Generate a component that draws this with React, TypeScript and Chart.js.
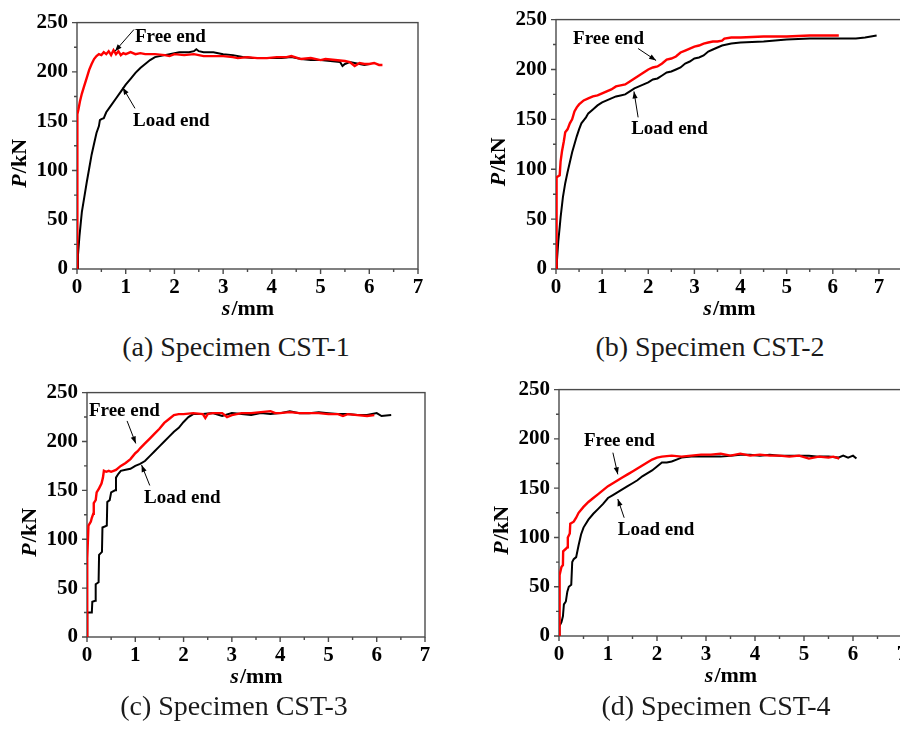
import React, { useEffect, useRef } from "react";
import { Chart, registerables } from "chart.js";
Chart.register(...registerables);

// ---------- data ----------
const yTicks = [0, 50, 100, 150, 200, 250];
const xTicks = [0, 1, 2, 3, 4, 5, 6, 7];
const seriesNames = ["Free end", "Load end"];
const captions = ["(a) Specimen CST-1", "(b) Specimen CST-2", "(c) Specimen CST-3", "(d) Specimen CST-4"];

const freeA: [number, number][] = [
  [0, 0], [0.005, 150], [0.01, 157], [0.03, 162], [0.06, 170], [0.1, 178], [0.15, 186], [0.2, 194], [0.25, 202],
  [0.3, 208], [0.35, 213], [0.4, 216], [0.45, 218], [0.5, 217], [0.55, 220], [0.6, 218], [0.65, 221], [0.7, 217],
  [0.75, 222], [0.8, 218], [0.85, 221], [0.9, 217], [0.95, 219], [1.0, 218], [1.1, 220], [1.2, 218], [1.3, 219],
  [1.4, 218], [1.6, 218], [1.8, 217], [1.9, 216], [2.0, 218], [2.2, 217], [2.4, 218], [2.6, 216], [2.8, 216],
  [3.0, 216], [3.2, 215], [3.3, 214], [3.5, 215], [3.7, 214], [3.9, 214], [4.1, 215], [4.3, 215], [4.4, 216],
  [4.6, 213], [4.8, 214], [5.0, 212], [5.1, 213], [5.3, 212], [5.5, 211], [5.6, 210], [5.7, 206], [5.8, 209],
  [5.9, 208], [6.0, 208], [6.1, 209], [6.2, 207], [6.27, 207],
];
const loadA: [number, number][] = [
  [0, 0], [0.02, 14], [0.05, 33], [0.08, 48], [0.1, 58], [0.15, 73], [0.2, 88], [0.25, 102], [0.3, 116],
  [0.35, 127], [0.4, 138], [0.45, 145], [0.47, 151], [0.5, 152], [0.55, 153], [0.6, 159], [0.7, 166], [0.8, 173],
  [0.9, 180], [1.0, 187], [1.1, 193], [1.2, 199], [1.3, 204], [1.4, 208], [1.5, 212], [1.6, 215], [1.7, 216],
  [1.8, 217], [1.9, 218], [2.0, 219], [2.1, 220], [2.2, 220], [2.3, 220], [2.4, 221], [2.45, 223], [2.5, 221],
  [2.6, 220], [2.8, 220], [3.0, 218], [3.2, 217], [3.4, 215], [3.6, 214], [3.8, 214], [4.0, 214], [4.2, 214],
  [4.4, 215], [4.6, 213], [4.8, 212], [5.0, 212], [5.2, 211], [5.4, 210], [5.45, 206], [5.5, 208], [5.6, 210],
  [5.8, 208], [5.9, 207], [6.0, 208],
];
const freeB: [number, number][] = [
  [0, 0], [0.005, 88], [0.02, 92], [0.08, 94], [0.1, 108], [0.13, 118], [0.17, 128], [0.2, 137], [0.25, 140],
  [0.3, 146], [0.35, 150], [0.4, 158], [0.45, 162], [0.5, 165], [0.6, 169], [0.7, 171], [0.8, 173], [0.9, 174],
  [1.0, 176], [1.1, 178], [1.2, 180], [1.3, 183], [1.4, 184], [1.5, 185], [1.6, 188], [1.7, 191], [1.8, 194],
  [1.9, 197], [2.0, 200], [2.1, 202], [2.2, 203], [2.3, 206], [2.4, 210], [2.5, 211], [2.6, 213], [2.7, 217],
  [2.8, 219], [2.9, 221], [3.0, 223], [3.1, 224], [3.2, 226], [3.3, 227], [3.4, 228], [3.5, 228], [3.6, 229],
  [3.65, 231], [3.8, 232], [4.0, 232], [4.5, 233], [5.0, 233], [5.5, 234], [6.0, 234], [6.13, 234],
];
const loadB: [number, number][] = [
  [0, 0], [0.02, 8], [0.05, 28], [0.08, 42], [0.1, 52], [0.15, 72], [0.2, 86], [0.25, 97], [0.3, 107],
  [0.35, 117], [0.4, 125], [0.45, 133], [0.5, 140], [0.55, 146], [0.6, 149], [0.65, 152], [0.7, 156], [0.8, 160],
  [0.9, 164], [1.0, 167], [1.1, 169], [1.2, 171], [1.3, 173], [1.4, 174], [1.5, 175], [1.6, 178], [1.7, 181],
  [1.8, 183], [1.9, 185], [2.0, 187], [2.1, 190], [2.2, 191], [2.3, 194], [2.4, 197], [2.5, 198], [2.6, 200],
  [2.7, 202], [2.8, 206], [2.9, 208], [3.0, 211], [3.1, 212], [3.2, 214], [3.3, 218], [3.4, 220], [3.5, 222],
  [3.6, 224], [3.7, 225], [3.8, 226], [4.0, 227], [4.5, 228], [5.0, 230], [5.5, 231], [6.0, 231], [6.5, 231],
  [6.7, 232], [6.95, 234],
];
const freeC: [number, number][] = [
  [0, 0], [0.005, 80], [0.03, 114], [0.08, 118], [0.1, 122], [0.13, 126], [0.14, 137], [0.18, 140], [0.2, 148],
  [0.25, 152], [0.3, 157], [0.33, 163], [0.35, 170], [0.4, 169], [0.45, 170], [0.5, 169], [0.55, 170], [0.6, 171],
  [0.7, 175], [0.8, 178], [0.9, 182], [1.0, 188], [1.05, 190], [1.1, 193], [1.2, 198], [1.3, 203], [1.4, 208],
  [1.5, 213], [1.6, 219], [1.7, 223], [1.8, 227], [1.9, 228], [2.0, 228], [2.2, 229], [2.4, 228], [2.45, 224],
  [2.5, 228], [2.6, 229], [2.8, 229], [2.9, 225], [3.0, 227], [3.2, 229], [3.4, 229], [3.6, 230], [3.8, 231],
  [3.9, 229], [4.0, 229], [4.2, 230], [4.4, 229], [4.6, 229], [4.8, 229], [5.0, 228], [5.2, 228], [5.3, 226],
  [5.4, 228], [5.6, 227], [5.8, 226], [5.95, 227],
];
const loadC: [number, number][] = [
  [0, 0], [0.005, 25], [0.1, 25], [0.11, 36], [0.17, 37], [0.18, 54], [0.24, 56], [0.25, 84], [0.31, 87],
  [0.32, 112], [0.41, 114], [0.42, 138], [0.47, 140], [0.5, 148], [0.58, 150], [0.6, 163], [0.65, 167], [0.7, 170],
  [0.8, 171], [0.9, 172], [1.0, 175], [1.1, 177], [1.2, 180], [1.3, 185], [1.4, 190], [1.5, 195], [1.6, 200],
  [1.7, 205], [1.8, 210], [1.9, 214], [2.0, 220], [2.1, 225], [2.2, 228], [2.4, 228], [2.6, 229], [2.8, 226],
  [3.0, 229], [3.2, 228], [3.4, 227], [3.6, 229], [3.8, 228], [4.0, 229], [4.2, 231], [4.4, 229], [4.6, 229],
  [4.8, 230], [5.0, 229], [5.2, 228], [5.4, 228], [5.6, 227], [5.8, 227], [6.0, 229], [6.1, 226], [6.3, 227],
];
const freeD: [number, number][] = [
  [0, 0], [0.005, 58], [0.02, 62], [0.05, 70], [0.08, 72], [0.085, 86], [0.13, 88], [0.17, 90], [0.18, 100],
  [0.22, 104], [0.23, 114], [0.3, 116], [0.35, 120], [0.4, 125], [0.5, 131], [0.6, 136], [0.7, 140], [0.8, 144],
  [0.9, 148], [1.0, 152], [1.1, 155], [1.2, 158], [1.3, 161], [1.4, 164], [1.5, 167], [1.6, 170], [1.7, 173],
  [1.8, 176], [1.9, 179], [2.0, 181], [2.1, 182], [2.3, 183], [2.5, 182], [2.7, 183], [2.9, 184], [3.1, 184],
  [3.3, 185], [3.5, 183], [3.7, 185], [3.9, 183], [4.1, 184], [4.3, 183], [4.5, 183], [4.7, 182], [4.9, 183],
  [5.1, 180], [5.3, 182], [5.5, 181], [5.6, 182], [5.72, 180],
];
const loadD: [number, number][] = [
  [0, 0], [0.01, 10], [0.05, 14], [0.08, 20], [0.1, 32], [0.14, 35], [0.17, 45], [0.2, 50], [0.25, 52],
  [0.27, 75], [0.3, 78], [0.35, 80], [0.4, 92], [0.45, 103], [0.5, 110], [0.6, 118], [0.7, 124], [0.8, 129],
  [0.9, 134], [1.0, 140], [1.1, 143], [1.2, 146], [1.3, 149], [1.4, 152], [1.5, 155], [1.6, 158], [1.7, 162],
  [1.8, 165], [1.9, 168], [2.0, 172], [2.1, 176], [2.2, 176], [2.3, 177], [2.4, 179], [2.5, 181], [2.7, 182],
  [2.9, 182], [3.1, 182], [3.3, 182], [3.5, 183], [3.7, 184], [3.9, 184], [4.1, 183], [4.3, 184], [4.5, 183],
  [4.7, 183], [4.9, 183], [5.1, 183], [5.3, 182], [5.5, 182], [5.7, 181], [5.8, 183], [5.9, 181], [6.0, 183],
  [6.07, 180],
];

// ---------- layout ----------
type Panel = {
  free: [number, number][];
  load: [number, number][];
  caption: string;
  left: number; top: number; w: number; h: number; xMax: number;
  capX: number; capY: number;
  freeText: [number, number]; freeArrow: [number, number, number, number];
  loadText: [number, number]; loadArrow: [number, number, number, number];
};

const panels: Panel[] = [
  { free: freeA, load: loadA, caption: captions[0], left: 77, top: 16, w: 341, h: 253, xMax: 7, capX: 236, capY: 347,
    freeText: [1.19, 235], freeArrow: [1.17, 243, 0.78, 221], loadText: [1.15, 150], loadArrow: [1.19, 163, 0.94, 184] },
  { free: freeB, load: loadB, caption: captions[1], left: 556, top: 13, w: 346, h: 256, xMax: 7.5, capX: 710, capY: 347,
    freeText: [0.37, 230], freeArrow: [1.78, 221, 2.17, 209], loadText: [1.63, 140], loadArrow: [1.78, 152, 1.69, 178] },
  { free: freeC, load: loadC, caption: captions[2], left: 87, top: 386, w: 338, h: 251, xMax: 7, capX: 234, capY: 706,
    freeText: [0.04, 231], freeArrow: [0.83, 221, 1.01, 198], loadText: [1.18, 142], loadArrow: [1.3, 155, 1.13, 176] },
  { free: freeD, load: loadD, caption: captions[3], left: 559, top: 383, w: 343, h: 253, xMax: 7, capX: 716, capY: 706,
    freeText: [0.51, 198], freeArrow: [1.1, 186, 1.2, 164], loadText: [1.2, 107], loadArrow: [1.33, 120, 1.2, 139] },
];

const PAD_L = 75, PAD_T = 15, PAD_R = 15, PAD_B = 55;
const FONT = "'Liberation Serif', 'Times New Roman', serif";
const FRAME = "#4a4a4a";

function drawMixed(ctx: CanvasRenderingContext2D, a: string, b: string, size: number) {
  ctx.font = `italic bold ${size}px ${FONT}`;
  const wa = ctx.measureText(a).width;
  ctx.font = `bold ${size}px ${FONT}`;
  const wb = ctx.measureText(b).width;
  const start = -(wa + wb) / 2;
  ctx.textAlign = "left";
  ctx.textBaseline = "middle";
  ctx.font = `italic bold ${size}px ${FONT}`;
  ctx.fillText(a, start, 0);
  ctx.font = `bold ${size}px ${FONT}`;
  ctx.fillText(b, start + wa + 1, 0);
}

function arrow(ctx: CanvasRenderingContext2D, x1: number, y1: number, x2: number, y2: number) {
  ctx.beginPath();
  ctx.moveTo(x1, y1);
  ctx.lineTo(x2, y2);
  ctx.stroke();
  const ang = Math.atan2(y2 - y1, x2 - x1);
  const L = 7, W = 2.6;
  ctx.beginPath();
  ctx.moveTo(x2, y2);
  ctx.lineTo(x2 - L * Math.cos(ang) + W * Math.sin(ang), y2 - L * Math.sin(ang) - W * Math.cos(ang));
  ctx.lineTo(x2 - L * Math.cos(ang) - W * Math.sin(ang), y2 - L * Math.sin(ang) + W * Math.cos(ang));
  ctx.closePath();
  ctx.fill();
}

const framePlugin = {
  id: "frameTicks",
  beforeDatasetsDraw(chart: any) {
    const { ctx, chartArea: a, scales } = chart;
    const xs = scales.x, ys = scales.y;
    ctx.save();
    ctx.strokeStyle = FRAME;
    ctx.lineWidth = 1.4;
    ctx.strokeRect(a.left, a.top, a.right - a.left, a.bottom - a.top);
    ctx.beginPath();
    xTicks.forEach((v) => {
      if (v <= xs.max) {
        const px = xs.getPixelForValue(v);
        ctx.moveTo(px, a.bottom); ctx.lineTo(px, a.bottom + 5);
      }
      if (v + 0.5 <= xs.max) {
        const pm = xs.getPixelForValue(v + 0.5);
        ctx.moveTo(pm, a.bottom); ctx.lineTo(pm, a.bottom + 3);
      }
    });
    yTicks.forEach((v) => {
      const py = ys.getPixelForValue(v);
      ctx.moveTo(a.left, py); ctx.lineTo(a.left - 5, py);
      if (v + 25 <= ys.max) {
        const pm = ys.getPixelForValue(v + 25);
        ctx.moveTo(a.left, pm); ctx.lineTo(a.left - 3, pm);
      }
    });
    ctx.stroke();
    ctx.restore();
  },
  afterDraw(chart: any, _args: any, opts: any) {
    const { ctx, chartArea: a, scales } = chart;
    const xs = scales.x, ys = scales.y;
    const p: Panel = opts.panel;
    ctx.save();
    ctx.fillStyle = "#000";
    ctx.save();
    ctx.translate(a.left - 57, (a.top + a.bottom) / 2 + 18);
    ctx.rotate(-Math.PI / 2);
    drawMixed(ctx, "P", "/kN", 22);
    ctx.restore();
    ctx.save();
    ctx.translate((a.left + a.right) / 2, a.bottom + 40);
    drawMixed(ctx, "s", "/mm", 22);
    ctx.restore();
    ctx.font = `bold 19px ${FONT}`;
    ctx.textAlign = "left";
    ctx.textBaseline = "middle";
    ctx.fillText(seriesNames[0], xs.getPixelForValue(p.freeText[0]), ys.getPixelForValue(p.freeText[1]));
    ctx.fillText(seriesNames[1], xs.getPixelForValue(p.loadText[0]), ys.getPixelForValue(p.loadText[1]));
    ctx.strokeStyle = "#000";
    ctx.lineWidth = 1;
    const fa = p.freeArrow, la = p.loadArrow;
    arrow(ctx, xs.getPixelForValue(fa[0]), ys.getPixelForValue(fa[1]), xs.getPixelForValue(fa[2]), ys.getPixelForValue(fa[3]));
    arrow(ctx, xs.getPixelForValue(la[0]), ys.getPixelForValue(la[1]), xs.getPixelForValue(la[2]), ys.getPixelForValue(la[3]));
    ctx.restore();
  },
};

function PanelChart({ p }: { p: Panel }) {
  const ref = useRef<HTMLCanvasElement>(null);
  const cw = PAD_L + p.w + PAD_R;
  const ch = PAD_T + p.h + PAD_B;
  useEffect(() => {
    if (!ref.current) return;
    const chart = new Chart(ref.current, {
      type: "line",
      data: {
        datasets: [
          { label: seriesNames[0], data: p.free.map(([x, y]) => ({ x, y })), borderColor: "#ff0000", borderWidth: 2.4, pointRadius: 0, tension: 0, fill: false },
          { label: seriesNames[1], data: p.load.map(([x, y]) => ({ x, y })), borderColor: "#000000", borderWidth: 2, pointRadius: 0, tension: 0, fill: false },
        ],
      },
      options: {
        responsive: false,
        animation: false,
        events: [],
        layout: { padding: { top: PAD_T, right: PAD_R, left: 0, bottom: 0 } },
        plugins: { legend: { display: false }, tooltip: { enabled: false }, frameTicks: { panel: p } } as any,
        scales: {
          x: {
            type: "linear", min: 0, max: p.xMax,
            grid: { display: false, drawTicks: false },
            border: { display: false },
            ticks: { stepSize: 1, includeBounds: false, padding: 6, color: "#000", maxRotation: 0,
              font: { family: FONT, size: 21, weight: "bold" } },
            afterFit: (s: any) => { s.height = PAD_B; },
          },
          y: {
            type: "linear", min: 0, max: 250,
            grid: { display: false, drawTicks: false },
            border: { display: false },
            ticks: { stepSize: 50, padding: 9, color: "#000", font: { family: FONT, size: 21, weight: "bold" } },
            afterFit: (s: any) => { s.width = PAD_L; },
          },
        },
      } as any,
      plugins: [framePlugin as any],
    });
    return () => chart.destroy();
  }, [p]);
  return (
    <canvas
      ref={ref}
      width={cw}
      height={ch}
      style={{ position: "absolute", left: p.left - PAD_L, top: p.top - PAD_T, width: cw, height: ch }}
    />
  );
}

export default function App() {
  return (
    <div style={{ position: "fixed", left: 0, top: 0, width: 900, height: 731, overflow: "hidden", background: "#fff" }}>
      {panels.map((p, i) => (
        <PanelChart key={i} p={p} />
      ))}
      {panels.map((p, i) => (
        <div
          key={"c" + i}
          style={{ position: "absolute", left: p.capX - 200, top: p.capY - 16, width: 400, height: 32, lineHeight: "32px",
            textAlign: "center", fontFamily: FONT, fontSize: 28, color: "#1a1a1a", whiteSpace: "nowrap" }}
        >
          {p.caption}
        </div>
      ))}
    </div>
  );
}
